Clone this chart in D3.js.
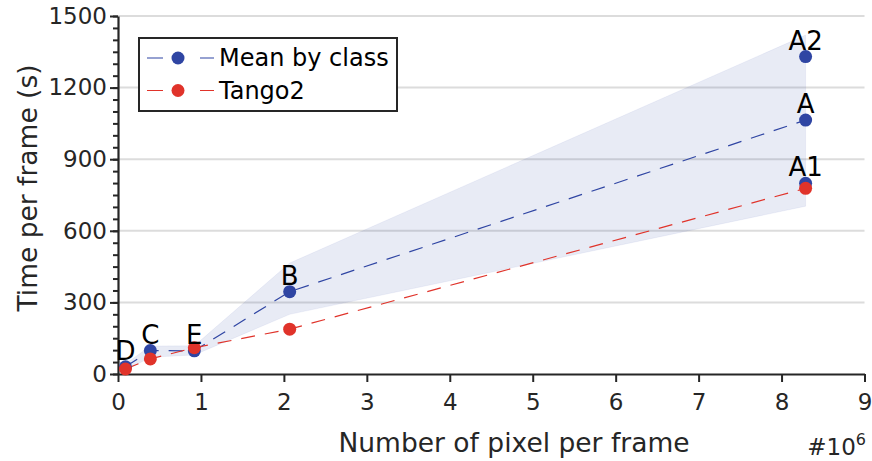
<!DOCTYPE html>
<html>
<head>
<meta charset="utf-8">
<script src="https://cdnjs.cloudflare.com/ajax/libs/d3/7.8.5/d3.min.js"></script>
<style>
  body { margin: 0; background: #fff; }
  text { font-family: "DejaVu Sans", sans-serif; }
</style>
</head>
<body>
<svg id="chart" width="872" height="461"></svg>
<script>
// values (x in millions of pixels, y in seconds)
const classNames = ['D', 'C', 'E', 'B', 'A'];
const classX = [0.09, 0.39, 0.92, 2.07, 8.29];
const meanTime = [30, 98, 97, 345, 1064];
const tangoTime = [21, 63, 110, 188, 778];
const bandLow = [15, 70, 80, 250, 703];
const bandHigh = [42, 117, 118, 465, 1420];
const extraNames = ['A2', 'A1'];
const extraX = [8.29, 8.29];
const extraTime = [1330, 799];
const xTicks = [0, 1, 2, 3, 4, 5, 6, 7, 8, 9];
const yTicks = [0, 300, 600, 900, 1200, 1500];

const blue = '#2f45a3', red = '#e0332a', ink = '#262626';

var svg = d3.select('#chart'),
    margin = {top: 16, right: 7.5, bottom: 87, left: 118},
    width = svg.attr('width') - margin.left - margin.right,
    height = svg.attr('height') - margin.top - margin.bottom,
    g = svg.append('g').attr('transform', `translate(${margin.left},${margin.top})`);

var x = d3.scaleLinear().domain([0, 9]).range([0, width]);
var y = d3.scaleLinear().domain([0, 1500]).range([height, 0]);

// grid
g.append('g').selectAll('line')
  .data(yTicks.filter(d => d > 0))
  .enter().append('line')
  .attr('x1', 0).attr('x2', width)
  .attr('y1', d => y(d)).attr('y2', d => y(d))
  .style('stroke', '#dcdcdc').style('stroke-width', 2);

// spread of the classes
var area = d3.area()
  .x((d, i) => x(classX[i]))
  .y0((d, i) => y(bandLow[i]))
  .y1((d, i) => y(bandHigh[i]));
g.append('path')
  .attr('d', area(classX))
  .style('fill', blue).style('fill-opacity', 0.11)
  .style('stroke', blue).style('stroke-opacity', 0.06);

// axes
var xAxis = g.append('g')
  .attr('transform', `translate(0,${height})`)
  .call(d3.axisBottom(x).tickValues(xTicks).tickFormat(d3.format('d')).tickSize(8).tickSizeOuter(0));
var yMinor = g.append('g')
  .call(d3.axisLeft(y).tickValues(d3.range(0, 1501, 50)).tickSize(5).tickFormat(''));
yMinor.select('.domain').remove();
var yAxis = g.append('g')
  .call(d3.axisLeft(y).tickValues(yTicks).tickFormat(d3.format('d')).tickSize(8).tickSizeOuter(0));

[xAxis, yAxis, yMinor].forEach(a => {
  a.selectAll('.domain').style('stroke', ink).style('stroke-width', 2.2);
  a.selectAll('.tick line').style('stroke', ink).style('stroke-width', 2);
  a.selectAll('.tick text').style('font-size', '23px').style('fill', ink)
    .style('font-family', '"DejaVu Sans", sans-serif');
});
xAxis.selectAll('.tick text').attr('y', 14).attr('dy', '0.95em');
yAxis.selectAll('.tick text').attr('x', -11);

// lines
var line = d3.line().x(d => x(d[0])).y(d => y(d[1]));
var meanPts = classX.map((d, i) => [d, meanTime[i]]);
var tangoPts = classX.map((d, i) => [d, tangoTime[i]]);
g.append('path').attr('d', line(meanPts))
  .style('fill', 'none').style('stroke', blue).style('stroke-width', 1.2).style('stroke-dasharray', '14,10');
g.append('path').attr('d', line(tangoPts))
  .style('fill', 'none').style('stroke', red).style('stroke-width', 1.2).style('stroke-dasharray', '14,10');

// points
var allMean = meanPts.concat(extraX.map((d, i) => [d, extraTime[i]]));
g.selectAll('.mean').data(allMean).enter().append('circle')
  .attr('class', 'mean')
  .attr('cx', d => x(d[0])).attr('cy', d => y(d[1])).attr('r', 6.5)
  .style('fill', blue);
g.selectAll('.tango').data(tangoPts).enter().append('circle')
  .attr('class', 'tango')
  .attr('cx', d => x(d[0])).attr('cy', d => y(d[1])).attr('r', 6.5)
  .style('fill', red);

// class labels
var labels = classNames.map((n, i) => [n, classX[i], meanTime[i]])
  .concat(extraNames.map((n, i) => [n, extraX[i], extraTime[i]]));
g.selectAll('.lbl').data(labels).enter().append('text')
  .attr('class', 'lbl')
  .attr('x', d => x(d[1])).attr('y', d => y(d[2]) - 7)
  .attr('text-anchor', 'middle')
  .style('font-size', '26px').style('fill', '#000')
  .text(d => d[0]);

// axis titles
svg.append('text')
  .attr('x', 514).attr('y', 452)
  .attr('text-anchor', 'middle')
  .style('font-size', '26.5px').style('fill', ink)
  .text('Number of pixel per frame');
var mult = svg.append('text')
  .attr('x', 866).attr('y', 455)
  .attr('text-anchor', 'end')
  .style('font-size', '23px').style('fill', ink);
mult.append('tspan').text('#10');
mult.append('tspan').attr('dy', -10).style('font-size', '16px').text('6');
svg.append('text')
  .attr('transform', 'translate(37,188) rotate(-90)')
  .attr('text-anchor', 'middle')
  .style('font-size', '26.5px').style('fill', ink)
  .text('Time per frame (s)');

// legend
var legend = svg.append('g').attr('transform', 'translate(139,38)');
legend.append('rect')
  .attr('width', 258).attr('height', 73)
  .style('fill', '#fff').style('stroke', ink).style('stroke-width', 2);
[['Mean by class', blue], ['Tango2', red]].forEach((d, i) => {
  var row = legend.append('g').attr('transform', `translate(0,${20 + i * 32.5})`);
  row.append('line').attr('x1', 8).attr('x2', 75)
    .style('stroke', d[1]).style('stroke-width', 1.2).style('stroke-dasharray', '16,37');
  row.append('circle').attr('cx', 39).attr('cy', 0).attr('r', 6.5).style('fill', d[1]);
  row.append('text').attr('x', 80).attr('y', 0).attr('dy', '0.35em')
    .style('font-size', '24px').style('fill', '#000').text(d[0]);
});
</script>
</body>
</html>
